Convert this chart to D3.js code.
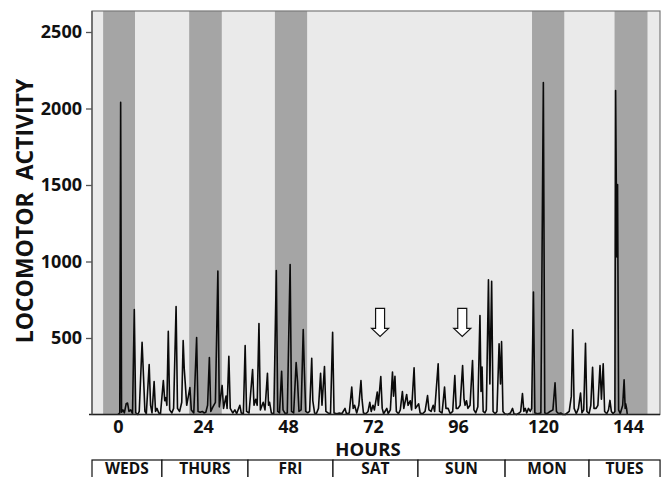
<!DOCTYPE html>
<html>
<head>
  <meta charset="utf-8">
  <title>Locomotor activity by hour</title>
  <script src="https://d3js.org/d3.v7.min.js"></script>
  <style>
    body { margin: 0; background: #fff; font-family: 'Open Sans', 'DejaVu Sans', sans-serif; }
    svg text { font-weight: 700; fill: #111; }
  </style>
</head>
<body>
  <div id="chart"></div>
  <script>
    // activity counts, [hour, count]
    const activity = [
      [0, 0], [0.5, 10], [0.75, 2040], [1.0, 15], [1.4, 30], [1.8, 10], [2.3, 70], [2.7, 75], [3.1, 20],
      [3.6, 30], [4.1, 5], [4.6, 686], [5.0, 10], [5.6, 0], [6.0, 20], [6.8, 472], [7.2, 250], [7.6, 20],
      [8.0, 5], [8.8, 327], [9.2, 60], [9.6, 10], [10.2, 216], [10.6, 20], [11.0, 40], [11.5, 10], [12.0, 5],
      [12.8, 222], [13.2, 90], [13.5, 110], [13.8, 60], [14.2, 543], [14.6, 30], [15.2, 10], [15.7, 40],
      [16.4, 706], [16.8, 40], [17.4, 20], [18.0, 80], [18.4, 484], [18.7, 300], [19.0, 200], [19.4, 60],
      [20.3, 176], [20.7, 30], [21.4, 10], [22.2, 503], [22.6, 20], [23.2, 15], [23.8, 20], [24.3, 10],
      [24.8, 15], [25.3, 60], [25.8, 372], [26.2, 20], [26.8, 50], [27.5, 80], [28.2, 937], [28.6, 50],
      [29.4, 190], [29.8, 40], [30.5, 120], [30.8, 40], [31.3, 381], [31.7, 40], [32.4, 10], [33.0, 30],
      [33.5, 5], [34.4, 60], [34.8, 10], [35.4, 5], [35.9, 451], [36.3, 20], [37.0, 10], [38.0, 294],
      [38.4, 60], [38.9, 100], [39.3, 60], [39.8, 595], [40.2, 30], [41.0, 80], [41.5, 30], [42.2, 270],
      [42.5, 60], [42.8, 80], [43.3, 10], [44.0, 5], [44.7, 941], [45.1, 20], [45.6, 10], [46.2, 283],
      [46.6, 30], [47.2, 5], [47.8, 10], [48.6, 980], [49.0, 20], [49.6, 10], [50.3, 340], [50.7, 215],
      [51.1, 20], [51.7, 30], [52.3, 555], [52.6, 300], [53.0, 20], [53.6, 10], [54.1, 20], [54.7, 368],
      [55.0, 90], [55.5, 10], [56.0, 5], [56.6, 40], [57.2, 270], [57.6, 60], [58.3, 314], [58.7, 20],
      [59.3, 10], [60.0, 5], [60.6, 538], [61.0, 10], [61.8, 5], [62.5, 10], [63.2, 5], [64.1, 40],
      [64.5, 5], [65.3, 10], [66.0, 179], [66.4, 40], [66.8, 60], [67.4, 10], [68.0, 60], [68.6, 222],
      [68.9, 100], [69.3, 10], [70.0, 5], [70.6, 20], [71.1, 80], [71.5, 20], [72.0, 60], [72.4, 30],
      [73.2, 146], [73.5, 60], [74.2, 248], [74.6, 40], [75.0, 5], [75.9, 40], [76.3, 5], [76.9, 30],
      [77.5, 277], [77.8, 120], [78.2, 250], [78.6, 20], [79.2, 5], [79.7, 30], [80.3, 150], [80.7, 40],
      [81.5, 131], [81.9, 60], [82.5, 90], [82.9, 30], [83.6, 305], [84.0, 40], [84.9, 70], [85.3, 10],
      [86.0, 5], [86.7, 20], [87.4, 124], [87.8, 30], [88.4, 20], [89.0, 60], [89.4, 20], [90.4, 331],
      [90.8, 20], [91.5, 10], [92.2, 179], [92.6, 40], [93.2, 40], [93.8, 5], [94.5, 20], [95.1, 255],
      [95.5, 40], [96.0, 40], [96.6, 60], [97.3, 320], [97.7, 100], [98.0, 60], [98.4, 90], [98.8, 40],
      [99.4, 60], [100.1, 353], [100.5, 30], [101.0, 10], [101.6, 50], [102.2, 647], [102.5, 150],
      [102.8, 310], [103.1, 20], [103.6, 10], [104.0, 30], [104.6, 880], [105.0, 200], [105.5, 871],
      [105.9, 20], [106.5, 5], [107.0, 20], [107.6, 462], [108.0, 200], [108.3, 476], [108.7, 20],
      [109.2, 5], [110.0, 0], [110.8, 10], [111.4, 40], [111.8, 5], [112.5, 0], [113.3, 10], [113.7, 20],
      [114.2, 137], [114.6, 20], [115.0, 40], [115.4, 10], [115.9, 40], [116.4, 20], [116.8, 40],
      [117.3, 800], [117.7, 10], [118.5, 5], [119.4, 10], [120.1, 2170], [120.5, 10], [121.2, 5],
      [122.0, 20], [122.8, 30], [123.4, 207], [123.8, 20], [124.4, 5], [125.0, 10], [125.6, 0], [126.3, 0],
      [127.4, 20], [128.0, 120], [128.4, 553], [128.8, 40], [129.4, 5], [130.0, 40], [130.6, 140],
      [131.0, 10], [131.5, 30], [132.0, 466], [132.4, 20], [133.0, 5], [133.5, 60], [134.0, 309],
      [134.4, 40], [135.0, 40], [135.5, 60], [136.1, 320], [136.5, 100], [137.0, 331], [137.4, 20],
      [138.0, 5], [138.5, 30], [138.9, 92], [139.3, 20], [139.8, 5], [140.3, 20], [140.5, 2118],
      [140.85, 1030], [141.05, 1503], [141.35, 30], [141.8, 5], [142.5, 60], [142.9, 227], [143.2, 40],
      [143.35, 70], [143.6, 40], [143.8, 0]
    ];

    // dark (lights off) periods, hours
    const nightBands = [[-4.2, 4.8], [20.1, 29.3], [44.3, 53.4], [116.9, 126.0], [140.2, 149.5]];

    const dayNames = ["WEDS", "THURS", "FRI", "SAT", "SUN", "MON", "TUES"];
    const dayBounds = [-7.34, 12.4, 36.7, 60.7, 84.7, 109.3, 133, 153.05];

    const xTicks = [0, 24, 48, 72, 96, 120, 144];
    const yTicks = [500, 1000, 1500, 2000, 2500];
    const arrowHours = [74, 97.2];

    const width = 662, height = 477;
    const plotLeft = 92, plotRight = 660, plotTop = 11, plotBottom = 414.5;

    const x = d3.scaleLinear().domain([0, 144]).range([118, 628]);
    const y = d3.scaleLinear().domain([0, 2500]).range([plotBottom, 32]);

    const svg = d3.select("#chart").append("svg")
      .attr("width", width)
      .attr("height", height);

    // plot background
    svg.append("rect")
      .attr("x", plotLeft).attr("y", plotTop)
      .attr("width", plotRight - plotLeft).attr("height", plotBottom - plotTop)
      .attr("fill", "#eaeaea");

    svg.append("g").selectAll("rect")
      .data(nightBands)
      .join("rect")
      .attr("x", d => x(d[0]))
      .attr("y", plotTop)
      .attr("width", d => x(d[1]) - x(d[0]))
      .attr("height", plotBottom - plotTop)
      .attr("fill", "#a5a5a5");

    const line = d3.line()
      .x(d => x(d[0]))
      .y(d => y(d[1]));

    svg.append("path")
      .datum(activity)
      .attr("d", line)
      .attr("fill", "none")
      .attr("stroke", "#0a0a0a")
      .attr("stroke-width", 1.6)
      .attr("stroke-linejoin", "round");

    // frame
    svg.append("rect")
      .attr("x", plotLeft).attr("y", plotTop)
      .attr("width", plotRight - plotLeft).attr("height", plotBottom - plotTop)
      .attr("fill", "none")
      .attr("stroke", "#7a7a7a")
      .attr("stroke-width", 1.2);

    svg.append("line")
      .attr("x1", plotLeft - 3).attr("x2", plotRight)
      .attr("y1", plotBottom).attr("y2", plotBottom)
      .attr("stroke", "#222")
      .attr("stroke-width", 1.6);

    svg.append("line")
      .attr("x1", plotLeft).attr("x2", plotLeft)
      .attr("y1", plotTop).attr("y2", plotBottom)
      .attr("stroke", "#555")
      .attr("stroke-width", 1.3);

    const yAxis = svg.append("g")
      .attr("transform", `translate(${plotLeft},0)`)
      .call(d3.axisLeft(y).tickValues(yTicks).tickFormat(d3.format("d")).tickSize(6).tickPadding(4));
    yAxis.select(".domain").remove();
    yAxis.selectAll("line").attr("stroke", "#555").attr("stroke-width", 1.3);
    yAxis.selectAll("text").style("font-size", "18px").style("font-family", "'Open Sans', sans-serif");

    const xAxis = svg.append("g")
      .attr("transform", `translate(0,${plotBottom})`)
      .call(d3.axisBottom(x).tickValues(xTicks).tickFormat(d3.format("d")).tickSize(0).tickPadding(6));
    xAxis.select(".domain").remove();
    xAxis.selectAll("text").style("font-size", "18px").style("font-family", "'Open Sans', sans-serif");

    svg.append("text")
      .attr("transform", "translate(33,211) rotate(-90)")
      .attr("text-anchor", "middle")
      .style("font-size", "23px")
      .style("white-space", "pre")
      .text("LOCOMOTOR  ACTIVITY");

    svg.append("text")
      .attr("x", 368).attr("y", 455.5)
      .attr("text-anchor", "middle")
      .style("font-size", "18.5px")
      .text("HOURS");

    // arrows
    const arrow = "M-4.5,0 L4.5,0 L4.5,20 L8.5,20 L0,28 L-8.5,20 L-4.5,20 Z";
    svg.append("g").selectAll("path")
      .data(arrowHours)
      .join("path")
      .attr("transform", d => `translate(${x(d)},${y(693)})`)
      .attr("d", arrow)
      .attr("fill", "#fff")
      .attr("stroke", "#111")
      .attr("stroke-width", 1.2);

    // day boxes
    const days = dayNames.map((name, i) => ({ name, from: dayBounds[i], to: dayBounds[i + 1] }));
    const dayG = svg.append("g").selectAll("g")
      .data(days)
      .join("g");
    dayG.append("rect")
      .attr("x", d => x(d.from))
      .attr("y", 460)
      .attr("width", d => x(d.to) - x(d.from))
      .attr("height", 22)
      .attr("fill", "#fff")
      .attr("stroke", "#111")
      .attr("stroke-width", 1.2);
    dayG.append("text")
      .attr("x", d => (x(d.from) + x(d.to)) / 2)
      .attr("y", 474)
      .attr("text-anchor", "middle")
      .style("font-size", "15.5px")
      .text(d => d.name);
  </script>
</body>
</html>
